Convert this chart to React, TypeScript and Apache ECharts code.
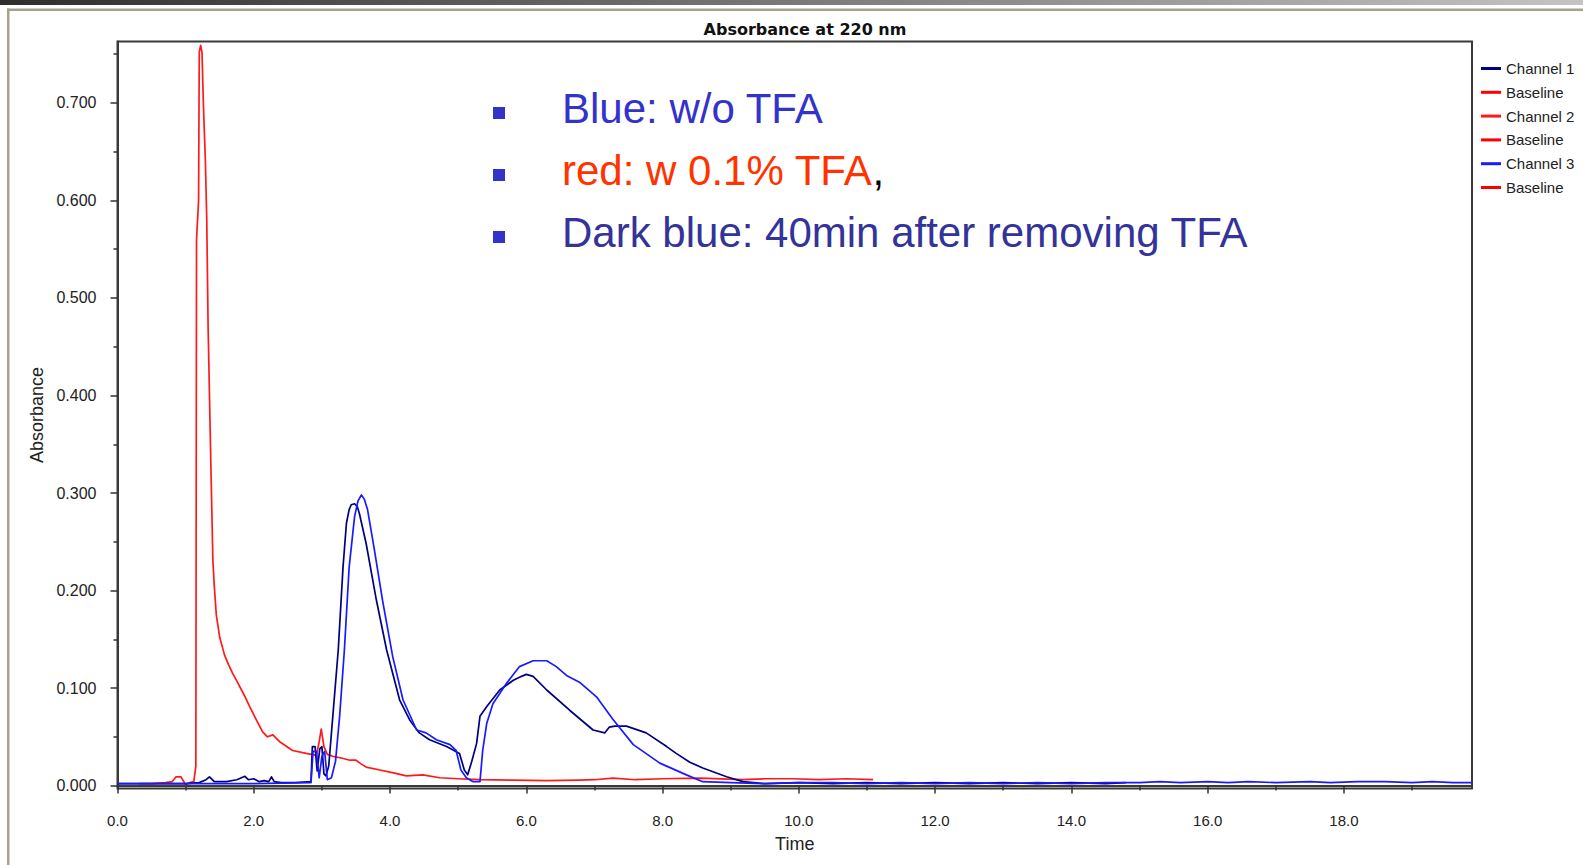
import React, { useEffect, useRef } from "react";
import * as echarts from "echarts";

const FONT = '"Liberation Sans", Arial, sans-serif';

// Axis ticks / labels
const xMajorTicks = [0, 2, 4, 6, 8, 10, 12, 14, 16, 18];
const xMinorTicks = [1, 3, 5, 7, 9, 11, 13, 15, 17, 19];
const yMajorTicks = [0, 0.1, 0.2, 0.3, 0.4, 0.5, 0.6, 0.7];
const yMinorTicks = [0.05, 0.15, 0.25, 0.35, 0.45, 0.55, 0.65, 0.75];

const legendNames = ["Channel 1", "Baseline 1", "Channel 2", "Baseline 2", "Channel 3", "Baseline 3"];

// Channel 1 (dark blue: 40 min after removing TFA)
const ch1Time = [0.0, 0.5, 1.0, 1.2, 1.3, 1.35, 1.42, 1.6, 1.75, 1.82, 1.87, 1.92, 2.0, 2.08, 2.15, 2.22, 2.26, 2.3, 2.4, 2.6, 2.84, 2.86, 2.9, 2.93, 2.97, 3.0, 3.03, 3.06, 3.1, 3.16, 3.24, 3.31, 3.36, 3.4, 3.43, 3.48, 3.52, 3.55, 3.65, 3.8, 3.95, 4.14, 4.29, 4.43, 4.58, 4.83, 5.02, 5.09, 5.14, 5.2, 5.27, 5.32, 5.42, 5.61, 5.81, 5.93, 6.0, 6.1, 6.3, 6.64, 6.98, 7.15, 7.22, 7.3, 7.47, 7.76, 8.06, 8.2, 8.4, 8.59, 8.94, 9.18, 9.5, 10.0, 10.5, 11.0, 11.5, 12.0, 12.5, 13.0, 13.5, 14.0, 14.5, 14.8];
const ch1Abs = [0.002, 0.002, 0.002, 0.003, 0.006, 0.009, 0.004, 0.004, 0.006, 0.008, 0.0095, 0.006, 0.007, 0.004, 0.005, 0.004, 0.009, 0.004, 0.003, 0.003, 0.004, 0.04, 0.04, 0.015, 0.038, 0.04, 0.012, 0.01, 0.02, 0.071, 0.139, 0.224, 0.269, 0.283, 0.288, 0.289, 0.286, 0.279, 0.248, 0.19, 0.139, 0.088, 0.067, 0.054, 0.047, 0.04, 0.033, 0.016, 0.011, 0.025, 0.043, 0.071, 0.081, 0.098, 0.108, 0.112, 0.114, 0.112, 0.098, 0.077, 0.057, 0.054, 0.06, 0.061, 0.061, 0.054, 0.04, 0.033, 0.024, 0.018, 0.009, 0.004, 0.002, 0.003, 0.002, 0.003, 0.002, 0.003, 0.002, 0.003, 0.002, 0.003, 0.002, 0.003];

// Channel 2 (red: with 0.1% TFA)
const ch2Time = [0.32, 0.5, 0.7, 0.8, 0.86, 0.93, 1.0, 1.06, 1.12, 1.15, 1.155, 1.16, 1.19, 1.2, 1.22, 1.24, 1.26, 1.29, 1.31, 1.33, 1.37, 1.4, 1.42, 1.45, 1.5, 1.57, 1.63, 1.69, 1.76, 1.82, 1.88, 1.94, 2.04, 2.13, 2.2, 2.28, 2.38, 2.57, 2.77, 2.92, 2.96, 2.99, 3.03, 3.08, 3.16, 3.3, 3.41, 3.5, 3.58, 3.65, 3.85, 4.05, 4.24, 4.48, 4.73, 5.0, 5.32, 5.8, 6.3, 6.78, 7.0, 7.27, 7.6, 8.0, 8.55, 9.18, 9.5, 9.91, 10.3, 10.7, 11.09];
const ch2Abs = [0.002, 0.002, 0.003, 0.004, 0.009, 0.009, 0.001, 0.003, 0.004, 0.02, 0.3, 0.56, 0.6, 0.752, 0.759, 0.752, 0.7, 0.64, 0.58, 0.47, 0.33, 0.231, 0.205, 0.175, 0.152, 0.134, 0.124, 0.115, 0.106, 0.098, 0.09, 0.081, 0.067, 0.055, 0.05, 0.052, 0.045, 0.036, 0.033, 0.031, 0.045, 0.058, 0.04, 0.032, 0.03, 0.028, 0.026, 0.026, 0.022, 0.019, 0.016, 0.013, 0.01, 0.011, 0.008, 0.007, 0.006, 0.0056, 0.005, 0.0056, 0.006, 0.0077, 0.006, 0.007, 0.0077, 0.006, 0.007, 0.007, 0.006, 0.007, 0.006];

// Channel 3 (blue: without TFA)
const ch3Time = [0.0, 1.0, 2.0, 2.84, 2.87, 2.92, 2.96, 3.0, 3.04, 3.08, 3.14, 3.2, 3.26, 3.33, 3.4, 3.48, 3.53, 3.58, 3.62, 3.67, 3.77, 3.89, 4.04, 4.19, 4.39, 4.53, 4.68, 4.88, 4.97, 5.04, 5.12, 5.22, 5.32, 5.36, 5.42, 5.51, 5.71, 5.9, 6.1, 6.3, 6.44, 6.59, 6.78, 7.03, 7.27, 7.57, 7.96, 8.35, 8.59, 9.0, 9.5, 10.0, 10.5, 11.0, 11.5, 12.0, 12.5, 13.0, 13.5, 14.0, 14.5, 15.0, 15.3, 15.6, 16.0, 16.3, 16.6, 17.0, 17.5, 17.8, 18.2, 18.6, 19.0, 19.3, 19.6, 19.88];
const ch3Abs = [0.002, 0.002, 0.002, 0.003, 0.035, 0.035, 0.008, 0.03, 0.035, 0.006, 0.008, 0.025, 0.071, 0.139, 0.224, 0.276, 0.292, 0.298, 0.294, 0.283, 0.242, 0.19, 0.132, 0.088, 0.057, 0.054, 0.047, 0.042, 0.036, 0.016, 0.008, 0.004, 0.004, 0.036, 0.064, 0.084, 0.105, 0.122, 0.128, 0.128, 0.122, 0.113, 0.106, 0.091, 0.068, 0.042, 0.023, 0.011, 0.004, 0.003, 0.002, 0.003, 0.003, 0.002, 0.003, 0.002, 0.003, 0.002, 0.003, 0.002, 0.003, 0.003, 0.004, 0.003, 0.004, 0.003, 0.004, 0.003, 0.004, 0.003, 0.004, 0.004, 0.003, 0.004, 0.003, 0.003];

// Baselines (not visible in the chart)
const baseline1: number[][] = [];
const baseline2: number[][] = [];
const baseline3: number[][] = [];

const pairs = (t: number[], v: number[]) => t.map((x, i) => [x, v[i]]);

const lineSeries = (name: string, color: string, data: number[][]) => ({
  name,
  type: "line",
  data,
  showSymbol: false,
  symbol: "none",
  xAxisIndex: 0,
  yAxisIndex: 0,
  color,
  lineStyle: { color, width: 1.7, join: "round" },
  silent: true,
});

export default function App() {
  const ref = useRef<HTMLDivElement>(null);
  useEffect(() => {
    const chart = echarts.init(ref.current!, null, { renderer: "svg" });
    const axisText = { fontFamily: FONT, fontSize: 15, color: "#222" };
    const option: any = {
      animation: false,
      backgroundColor: "#ffffff",
      title: {
        text: "Absorbance at 220 nm",
        left: 805,
        top: 21,
        padding: 0,
        textAlign: "center",
        textStyle: { fontFamily: '"DejaVu Sans", sans-serif', fontWeight: "bold", fontSize: 16, color: "#111" },
      },
      grid: {
        left: 117.5,
        right: 111,
        top: 41.5,
        bottom: 76.5,
        show: true,
        borderColor: "#3a3a3a",
        borderWidth: 2,
        backgroundColor: "#fff",
      },
      legend: {
        orient: "vertical",
        left: 1481,
        top: 60.5,
        padding: 0,
        itemWidth: 20,
        itemHeight: 3,
        itemGap: 7.8,
        icon: "rect",
        data: legendNames,
        formatter: (n: string) => (n.indexOf("Baseline") === 0 ? "Baseline" : n),
        textStyle: { fontFamily: FONT, fontSize: 15, lineHeight: 16, color: "#222" },
      },
      xAxis: [
        {
          type: "value",
          min: 0,
          max: 19.88,
          position: "bottom",
          offset: 9,
          name: "Time",
          nameLocation: "middle",
          nameGap: 37,
          nameTextStyle: { fontFamily: FONT, fontSize: 18, color: "#222" },
          axisLine: { show: true, lineStyle: { color: "#3a3a3a", width: 2 } },
          axisTick: { show: true, customValues: xMajorTicks, length: 8, lineStyle: { color: "#333", width: 1.5 } },
          axisLabel: { customValues: xMajorTicks, formatter: (v: number) => v.toFixed(1), margin: 15, ...axisText },
          splitLine: { show: false },
        },
        {
          type: "value",
          min: 0,
          max: 19.88,
          position: "bottom",
          offset: 9,
          axisLine: { show: false },
          axisTick: { show: true, customValues: xMinorTicks, length: 5, lineStyle: { color: "#333", width: 1.5 } },
          axisLabel: { show: false },
          splitLine: { show: false },
        },
      ],
      yAxis: [
        {
          type: "value",
          min: -0.003,
          max: 0.763,
          position: "left",
          offset: 9,
          name: "Absorbance",
          nameLocation: "middle",
          nameGap: 62,
          nameTextStyle: { fontFamily: FONT, fontSize: 18, color: "#222" },
          axisLine: { show: true, lineStyle: { color: "#3a3a3a", width: 2 } },
          axisTick: { show: true, customValues: yMajorTicks, length: 7, lineStyle: { color: "#333", width: 1.5 } },
          axisLabel: { customValues: yMajorTicks, formatter: (v: number) => v.toFixed(3), margin: 12, ...axisText, fontSize: 16 },
          splitLine: { show: false },
        },
        {
          type: "value",
          min: -0.003,
          max: 0.763,
          position: "left",
          offset: 9,
          axisLine: { show: false },
          axisTick: { show: true, customValues: yMinorTicks, length: 4, lineStyle: { color: "#333", width: 1.5 } },
          axisLabel: { show: false },
          splitLine: { show: false },
        },
      ],
      series: [
        lineSeries("Baseline 1", "#ff0000", baseline1),
        lineSeries("Baseline 2", "#ff0000", baseline2),
        lineSeries("Baseline 3", "#ff0000", baseline3),
        lineSeries("Channel 2", "#ff1a1a", pairs(ch2Time, ch2Abs)),
        lineSeries("Channel 1", "#000080", pairs(ch1Time, ch1Abs)),
        lineSeries("Channel 3", "#1a1aff", pairs(ch3Time, ch3Abs)),
      ],
      graphic: [
        {
          type: "rect",
          silent: true,
          shape: { x: 0, y: 0, width: 1583, height: 5 },
          style: {
            fill: new echarts.graphic.LinearGradient(0, 0, 1, 0, [
              { offset: 0, color: "#2e2e2e" },
              { offset: 1, color: "#c4c4c4" },
            ]),
          },
        },
        { type: "rect", silent: true, shape: { x: 7, y: 8.5, width: 1576, height: 2.5 }, style: { fill: "#a6a290" } },
        { type: "rect", silent: true, shape: { x: 7, y: 8.5, width: 2.5, height: 857 }, style: { fill: "#a6a290" } },
        { type: "rect", silent: true, shape: { x: 493, y: 107, width: 12, height: 12 }, style: { fill: "#3333cc" } },
        { type: "rect", silent: true, shape: { x: 493, y: 169, width: 12, height: 12 }, style: { fill: "#3333cc" } },
        { type: "rect", silent: true, shape: { x: 493, y: 231, width: 12, height: 12 }, style: { fill: "#3333cc" } },
        {
          type: "text",
          silent: true,
          x: 562,
          y: 108,
          style: {
            text: "Blue: w/o TFA",
            fill: "#3333cc",
            fontFamily: FONT,
            fontSize: 42,
            verticalAlign: "middle",
            textVerticalAlign: "middle",
          },
        },
        {
          type: "text",
          silent: true,
          x: 562,
          y: 170,
          style: {
            text: "{r|red: w 0.1% TFA}{k|,}",
            fontFamily: FONT,
            fontSize: 42,
            verticalAlign: "middle",
            textVerticalAlign: "middle",
            rich: {
              r: { fill: "#ff3300", fontFamily: FONT, fontSize: 42 },
              k: { fill: "#000000", fontFamily: FONT, fontSize: 42 },
            },
          },
        },
        {
          type: "text",
          silent: true,
          x: 562,
          y: 232,
          style: {
            text: "Dark blue: 40min after removing TFA",
            fill: "#333399",
            fontFamily: FONT,
            fontSize: 42,
            verticalAlign: "middle",
            textVerticalAlign: "middle",
          },
        },
      ],
    };
    chart.setOption(option);
    return () => chart.dispose();
  }, []);
  return (
    <div
      ref={ref}
      style={{ position: "fixed", left: 0, top: 0, width: 1583, height: 865, background: "#fff" }}
    />
  );
}
